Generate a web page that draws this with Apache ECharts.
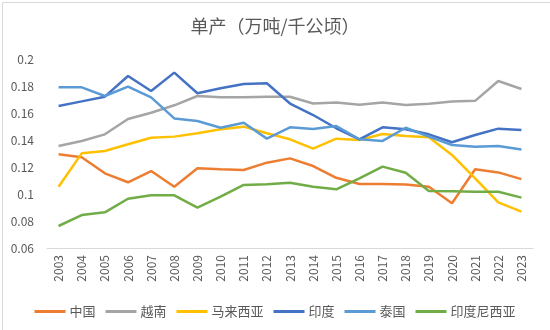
<!DOCTYPE html>
<html>
<head>
<meta charset="utf-8">
<script src="https://cdn.jsdelivr.net/npm/echarts@6/dist/echarts.min.js"></script>
<style>
html,body{margin:0;padding:0;background:#fff;}
#chart{width:550px;height:330px;}
</style>
</head>
<body>
<div id="chart"></div>
<script>
const years = ['2003','2004','2005','2006','2007','2008','2009','2010','2011','2012','2013','2014','2015','2016','2017','2018','2019','2020','2021','2022','2023'];
const seriesNames = ['中国','越南','马来西亚','印度','泰国','印度尼西亚'];
const china     = [0.1294,0.1272,0.1153,0.1087,0.1170,0.1054,0.1190,0.1183,0.1178,0.1232,0.1264,0.1207,0.1120,0.1074,0.1074,0.1070,0.1054,0.0931,0.1183,0.1160,0.1110];
const vietnam   = [0.1356,0.1393,0.1442,0.1556,0.1602,0.1657,0.1726,0.1716,0.1716,0.1720,0.1720,0.1670,0.1677,0.1662,0.1677,0.1660,0.1668,0.1685,0.1690,0.1837,0.1778];
const malaysia  = [0.1054,0.1301,0.1319,0.1368,0.1417,0.1425,0.1450,0.1479,0.1499,0.1450,0.1405,0.1336,0.1410,0.1400,0.1444,0.1429,0.1420,0.1289,0.1116,0.0938,0.0869];
const india     = [0.1652,0.1686,0.1721,0.1874,0.1763,0.1899,0.1746,0.1783,0.1815,0.1820,0.1670,0.1585,0.1487,0.1405,0.1494,0.1479,0.1442,0.1383,0.1437,0.1484,0.1474];
const thailand  = [0.1790,0.1790,0.1726,0.1795,0.1716,0.1560,0.1541,0.1491,0.1528,0.1410,0.1494,0.1481,0.1504,0.1405,0.1393,0.1491,0.1425,0.1363,0.1350,0.1355,0.1330];
const indonesia = [0.0763,0.0844,0.0864,0.0965,0.0990,0.0990,0.0899,0.0980,0.1067,0.1072,0.1084,0.1054,0.1035,0.1116,0.1203,0.1158,0.1022,0.1020,0.1017,0.1017,0.0973];
const yTicks = {min:0.06, max:0.2, interval:0.02};

const colors = ['#ED7D31','#A5A5A5','#FFC000','#4472C4','#5B9BD5','#70AD47'];
const allData = [china, vietnam, malaysia, india, thailand, indonesia];
const font = '"Noto Sans CJK SC", sans-serif';

const chart = echarts.init(document.getElementById('chart'), null, {renderer:'canvas'});
chart.setOption({
  animation:false,
  color: colors,
  textStyle:{fontFamily:font},
  title:{
    text:'单产（万吨/千公顷）',
    left:'center', top:12,
    textStyle:{fontSize:18, fontWeight:'normal', color:'#595959', fontFamily:font}
  },
  graphic:[{
    type:'rect', left:0, top:0, silent:true,
    shape:{x:0.5,y:0.5,width:549,height:329},
    style:{fill:'none', stroke:'#D9D9D9', lineWidth:1}
  }],
  grid:{left:47, right:17, top:59, bottom:82, containLabel:false},
  legend:{
    data: seriesNames,
    top:300, left:'center',
    icon:'rect', itemWidth:31, itemHeight:3, itemGap:10,
    textStyle:{fontSize:13, color:'#595959', fontFamily:font, padding:[0,0,0,-1]}
  },
  xAxis:{
    type:'category', data: years, boundaryGap:true,
    axisLine:{lineStyle:{color:'#D9D9D9', width:1}},
    axisTick:{show:false},
    axisLabel:{rotate:90, fontSize:12, color:'#595959', margin:7, interval:0, fontFamily:font}
  },
  yAxis:{
    type:'value', min:yTicks.min, max:yTicks.max, interval:yTicks.interval,
    axisLine:{show:false}, axisTick:{show:false},
    splitLine:{show:false},
    axisLabel:{fontSize:12, color:'#595959', margin:13, fontFamily:font}
  },
  series: seriesNames.map((n,i)=>({
    name:n, type:'line', data: allData[i],
    showSymbol:false, symbol:'none',
    lineStyle:{width:2.5, color:colors[i]},
    itemStyle:{color:colors[i]}
  }))
});
</script>
</body>
</html>
